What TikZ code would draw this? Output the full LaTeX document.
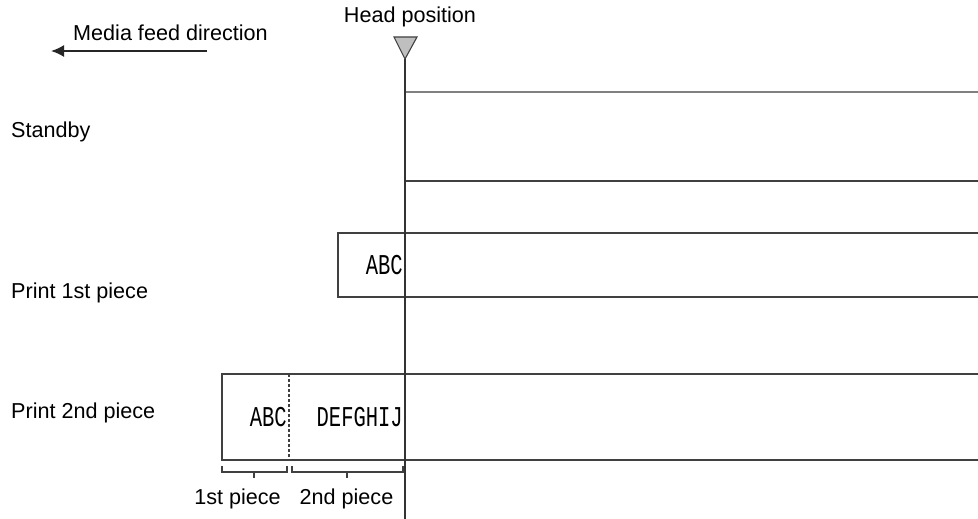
\documentclass[tikz,border=0pt]{standalone}
\usepackage{fontspec}
\setmainfont{Liberation Sans}
\newfontfamily\gothic{Liberation Mono}
\usetikzlibrary{arrows.meta,calc,positioning}
\definecolor{headgray}{rgb}{0.75,0.75,0.75}
\definecolor{linegray}{rgb}{0.25,0.25,0.25}
\tikzset{
  lbl/.style={
    inner sep=0pt,
    font=\fontsize{21.6}{25}\selectfont
  },
  rowlbl/.style={
    lbl,
    anchor=west
  },
  glyphs/.style={
    inner sep=0pt,
    anchor=east,
    font=\fontsize{20.5}{24}\gothic
  },
  band/.style={
    line width=1.7pt,
    draw=linegray
  },
  brk/.style={
    line width=1.2pt,
    draw=linegray
  },
  arrow/.style={
    -{Latex[length=13pt,width=12pt]},
    line width=1.7pt,
    black!85
  }
}
\newcommand{\tall}[1]{\scalebox{1}[1.4]{#1}}

\begin{document}
\begin{tikzpicture}[x=1pt,y=-1pt]
\useasboundingbox[fill=white] (0,0) rectangle (978,519);
% feed direction and head
\coordinate (fs) at (207,51);
\coordinate (fe) at (51,51);
\draw[arrow] (fs) -- (fe);
\node[lbl,anchor=west] (feed) at (73,33) {Media feed direction};
\node[lbl] (head) at (410,17) {Head position};
\coordinate (tip) at (405,59);
\draw[fill=headgray,draw=linegray,line width=1.1pt] (394,37) -- (417,37) -- (tip) -- cycle;
% row labels
\node[rowlbl] (sb) at (11,132) {Standby};
\node[rowlbl] (p1) at (11,293) {Print 1st piece};
\node[rowlbl] (p2) at (11,413) {Print 2nd piece};
% standby
\draw[band,draw=gray] (405,92) -- (978,92);
\draw[band] (405,181) -- (978,181);
% 1st piece
\draw[band] (978,233) -- (338,233) -- (338,297) -- (978,297);
\node[glyphs] (t1) at (403,265) {\tall{ABC}};
% 2nd piece
\draw[band] (978,374) -- (222,374) -- (222,460) -- (978,460);
\draw[brk,dashed,dash pattern=on 3pt off 2pt] (289,374) -- (289,460);
\node[glyphs] (t2) at (287,417) {\tall{ABC}};
\node[glyphs] (t3) at (403,417) {\tall{DEFGHIJ}};
% pieces
\draw[brk] (222,466) -- (222,472) -- (287,472) -- (287,466);
\draw[brk] (254,472) -- (254,478);
\draw[brk] (292,466) -- (292,472) -- (403,472) -- (403,466);
\draw[brk] (347,472) -- (347,478);
\node[lbl] (n1) at (237.5,499) {1st piece};
\node[lbl] (n2) at (346.5,499) {2nd piece};
% head line
\draw[line width=1.7pt,draw=black!80] (tip) -- (405,519);
\end{tikzpicture}
\end{document}
